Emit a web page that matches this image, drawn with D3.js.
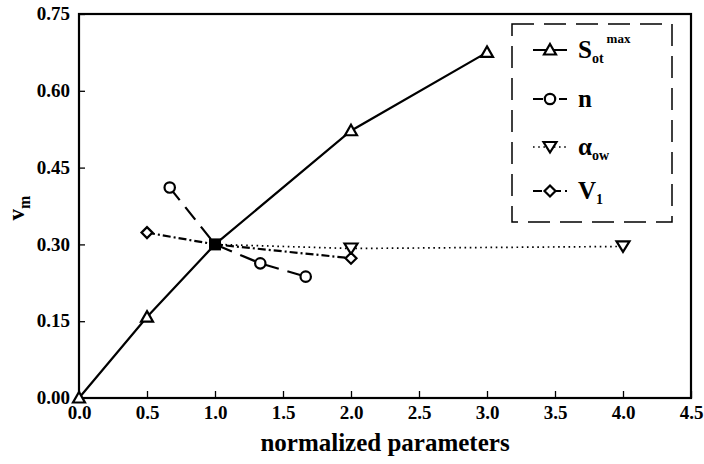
<!DOCTYPE html>
<html><head><meta charset="utf-8">
<script src="https://cdn.jsdelivr.net/npm/d3@7"></script>
<style>body{margin:0;background:#fff}svg{display:block}text{font-family:"Liberation Serif","Times New Roman",serif;font-weight:bold;fill:#000}</style>
</head><body>
<svg id="c" width="704" height="464"></svg>
<script>
const xTicks = [0,0.5,1,1.5,2,2.5,3,3.5,4,4.5];
const yTicks = [0,0.15,0.30,0.45,0.60,0.75];
const sotX = [0,0.5,1,2,3];
const sotY = [0,0.158,0.30,0.522,0.675];
const nX = [0.667,1,1.333,1.667];
const nY = [0.411,0.30,0.263,0.237];
const awX = [1,2,4];
const awY = [0.30,0.292,0.296];
const v1X = [0.5,1,2];
const v1Y = [0.323,0.30,0.273];
const refPoint = [1,0.30];

const svg = d3.select("#c");
const L=79,R=691,T=14,B=398;
const x = d3.scaleLinear().domain([0,4.5]).range([L,R]);
const y = d3.scaleLinear().domain([0,0.75]).range([B,T]);

svg.append("rect").attr("x",L).attr("y",T).attr("width",R-L).attr("height",B-T)
  .attr("fill","none").attr("stroke","#000").attr("stroke-width",2.2);

const xa = svg.append("g").attr("transform",`translate(0,${B})`)
  .call(d3.axisBottom(x).tickValues(xTicks).tickSizeInner(-7).tickSizeOuter(0).tickPadding(6).tickFormat(d3.format(".1f")));
const ya = svg.append("g").attr("transform",`translate(${L},0)`)
  .call(d3.axisLeft(y).tickValues(yTicks).tickSizeInner(-6).tickSizeOuter(0).tickPadding(9).tickFormat(d3.format(".2f")));
[xa,ya].forEach(g=>{g.select(".domain").remove();
  g.selectAll("line").attr("stroke","#000").attr("stroke-width",1.3);
  g.selectAll("text").attr("font-size",19).attr("font-family","Liberation Serif").attr("font-weight","bold");});
xa.selectAll("text").attr("dy","0.8em");
ya.selectAll("text").attr("dy","0.3em");

svg.append("text").attr("x",(L+R)/2).attr("y",451).attr("text-anchor","middle").attr("font-size",25).text("normalized parameters");
const yl = svg.append("text").attr("transform","translate(24,208) rotate(-90)").attr("text-anchor","middle").attr("font-size",23);
yl.append("tspan").text("v");
yl.append("tspan").attr("font-size",16).attr("dy",6).text("m");

const line = d3.line().x(d=>x(d[0])).y(d=>y(d[1]));
const zip=(a,b)=>a.map((v,i)=>[v,b[i]]);

const series = [
  {xs:sotX, ys:sotY, dash:null, sym:"tri", w:2.2, ldash:null},
  {xs:nX, ys:nY, dash:"16,9", sym:"circ", w:2.2, ldash:"10,3"},
  {xs:awX, ys:awY, dash:"1.6,3.6", sym:"tdn", w:1.7, ldash:"1.6,3.6"},
  {xs:v1X, ys:v1Y, dash:"8,3,2,3", sym:"dia", w:2.2, ldash:"9,4,2,4"}
];
function drawSym(g,sym,cx,cy){
  const s=g.append("path").attr("fill","#fff").attr("stroke","#000").attr("stroke-width",2.2);
  if(sym==="tri") s.attr("d",`M${cx},${cy-6}L${cx+6},${cy+4.5}L${cx-6},${cy+4.5}Z`);
  else if(sym==="tdn") s.attr("d",`M${cx},${cy+5.5}L${cx+6.5},${cy-5}L${cx-6.5},${cy-5}Z`);
  else if(sym==="circ") s.attr("d",d3.symbol(d3.symbolCircle,85)()).attr("transform",`translate(${cx},${cy})`);
  else if(sym==="dia") s.attr("d",`M${cx},${cy-5.5}L${cx+5.5},${cy}L${cx},${cy+5.5}L${cx-5.5},${cy}Z`);
}
series.forEach(s=>{
  svg.append("path").attr("d",line(zip(s.xs,s.ys))).attr("fill","none").attr("stroke","#000")
    .attr("stroke-width",s.w).attr("stroke-dasharray",s.dash);
});
series.forEach(s=>{
  zip(s.xs,s.ys).forEach(p=>{ if(!(p[0]===refPoint[0]&&p[1]===refPoint[1])) drawSym(svg,s.sym,x(p[0]),y(p[1])); });
});
svg.append("rect").attr("x",x(refPoint[0])-6).attr("y",y(refPoint[1])-6).attr("width",12).attr("height",12).attr("fill","#000");

// legend
svg.append("rect").attr("x",512).attr("y",24).attr("width",160).attr("height",198)
  .attr("fill","#fff").attr("stroke","#000").attr("stroke-width",1.5).attr("stroke-dasharray","22,10");
const legY=[50,99,147,191];
const labels=[["S","ot","max"],["n",null,null],["α","ow",null],["V","1",null]];
series.forEach((s,i)=>{
  const ly=legY[i];
  svg.append("path").attr("d",`M533,${ly}L567,${ly}`).attr("stroke","#000").attr("fill","none")
    .attr("stroke-width",s.w).attr("stroke-dasharray",s.ldash);
  drawSym(svg,s.sym,550,ly);
  const t=svg.append("text").attr("x",578).attr("y",ly+8).attr("font-size",25);
  t.append("tspan").text(labels[i][0]);
  if(labels[i][1]) t.append("tspan").attr("font-size",14).attr("dy",5).text(labels[i][1]);
  if(labels[i][2]) t.append("tspan").attr("font-size",13).attr("dy",-20).attr("dx",3).text(labels[i][2]);
});
</script>
</body></html>
